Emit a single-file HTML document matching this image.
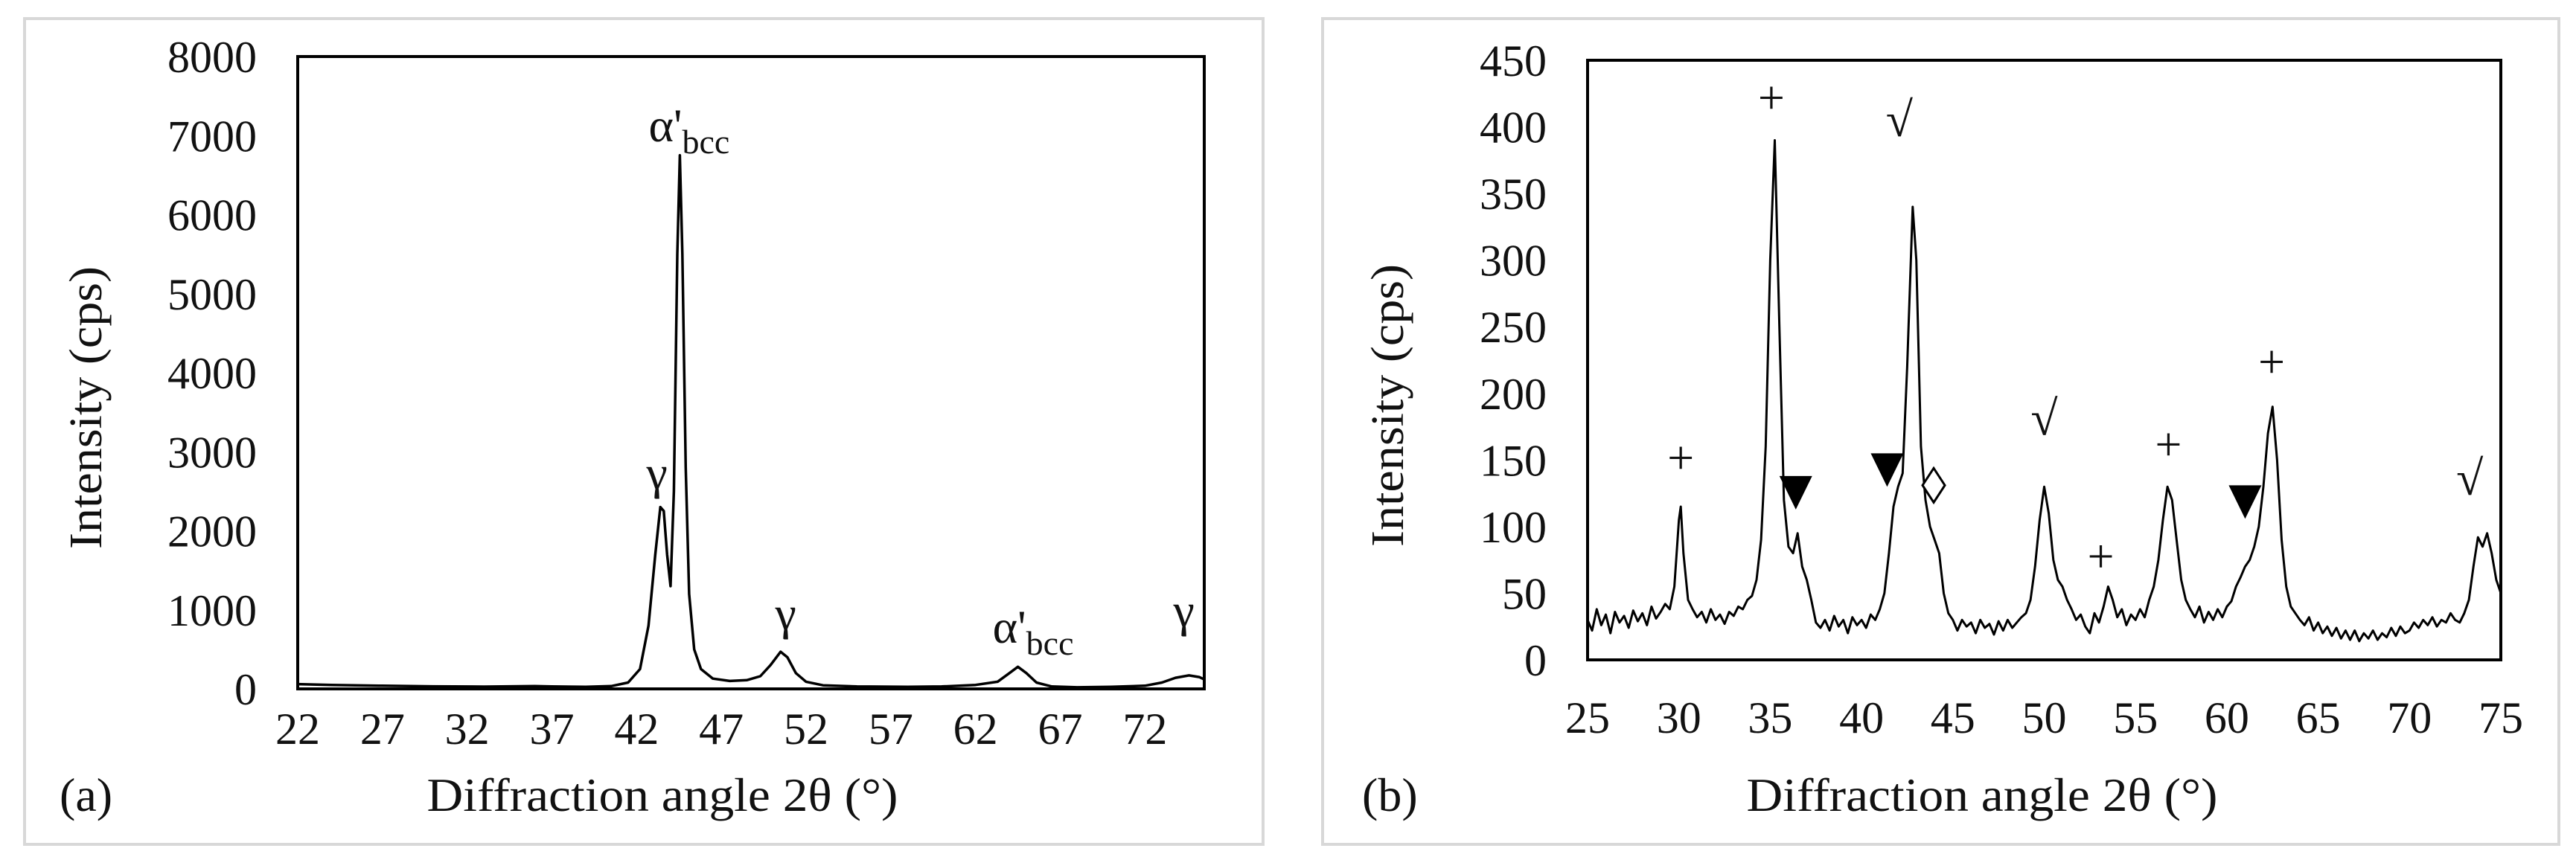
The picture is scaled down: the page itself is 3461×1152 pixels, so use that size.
<!DOCTYPE html>
<html><head><meta charset="utf-8"><style>
html,body{margin:0;padding:0;background:#fff;}
svg{display:block;}
text{font-family:"Liberation Serif",serif;fill:#111;}
</style></head><body>
<svg id="chart" width="3461" height="1152" viewBox="0 0 3461 1152" xmlns="http://www.w3.org/2000/svg">
<rect x="33" y="25" width="1664" height="1110" fill="none" stroke="#d8d8d8" stroke-width="4"/>
<rect x="1777" y="25" width="1661" height="1110" fill="none" stroke="#d8d8d8" stroke-width="4"/>
<g id="pa"></g>
<g id="pb"></g>
</svg>
<script>
// Panel (a) data
const aTicksX = [22,27,32,37,42,47,52,57,62,67,72];
const aTicksY = [0,1000,2000,3000,4000,5000,6000,7000,8000];
const aAngles = [22,24,27,30,33,36,37,39,40.5,41.5,42.2,42.7,43.1,43.4,43.6,43.8,44.0,44.2,44.4,44.55,44.7,44.9,45.1,45.4,45.8,46.5,47.5,48.5,49.3,49.9,50.5,50.9,51.4,52,53,55,58,60,62,63.3,64,64.5,65,65.6,66.5,68,70,72,73,73.8,74.6,75.2,75.5];
const aIntensity = [60,50,40,32,28,35,30,25,35,80,250,800,1700,2300,2250,1700,1300,2500,5500,6750,5500,2800,1200,500,250,130,100,110,160,300,470,400,200,90,45,30,25,30,50,90,200,280,200,80,30,20,25,40,80,140,170,150,120];
const aLabels = [["α'","bcc",45.1,7115],["γ","",43.2,2720],["γ","",50.8,941],["α'","bcc",65.4,772],["γ","",74.3,979]];

// Panel (b) data
const bTicksX = [25,30,35,40,45,50,55,60,65,70,75];
const bTicksY = [0,50,100,150,200,250,300,350,400,450];
const bPairs = [[25,30],[25.25,22],[25.5,38],[25.75,26],[26,34],[26.25,20],[26.5,36],[26.75,28],[27,33],[27.25,24],[27.5,37],[27.75,29],[28,35],[28.25,26],[28.5,40],[28.75,31],[29,36],[29.25,42],[29.5,38],[29.75,55],[30,105],[30.1,115],[30.25,80],[30.5,45],[30.75,38],[31,32],[31.25,36],[31.5,28],[31.75,38],[32,30],[32.25,34],[32.5,27],[32.75,36],[33,33],[33.25,40],[33.5,38],[33.75,45],[34,48],[34.25,60],[34.5,90],[34.75,160],[35,300],[35.25,390],[35.5,250],[35.75,120],[36,85],[36.25,80],[36.5,95],[36.75,70],[37,60],[37.25,45],[37.5,28],[37.75,24],[38,30],[38.25,22],[38.5,33],[38.75,25],[39,30],[39.25,20],[39.5,32],[39.75,26],[40,30],[40.25,24],[40.5,34],[40.75,30],[41,38],[41.25,50],[41.5,80],[41.75,115],[42,130],[42.25,140],[42.5,220],[42.8,340],[43,300],[43.25,160],[43.5,120],[43.75,100],[44,90],[44.25,80],[44.5,50],[44.75,35],[45,30],[45.25,22],[45.5,30],[45.75,25],[46,28],[46.25,20],[46.5,30],[46.75,24],[47,27],[47.25,19],[47.5,29],[47.75,22],[48,30],[48.25,24],[48.5,28],[48.75,32],[49,35],[49.25,45],[49.5,70],[49.75,105],[50,130],[50.25,110],[50.5,75],[50.75,60],[51,55],[51.25,45],[51.5,38],[51.75,30],[52,34],[52.25,25],[52.5,20],[52.75,35],[53,28],[53.25,40],[53.5,55],[53.75,45],[54,32],[54.25,38],[54.5,26],[54.75,34],[55,30],[55.25,38],[55.5,32],[55.75,45],[56,55],[56.25,75],[56.5,105],[56.75,130],[57,120],[57.25,90],[57.5,60],[57.75,45],[58,38],[58.25,32],[58.5,40],[58.75,28],[59,36],[59.25,30],[59.5,38],[59.75,32],[60,40],[60.25,44],[60.5,55],[60.75,62],[61,70],[61.25,75],[61.5,85],[61.75,100],[62,130],[62.25,170],[62.5,190],[62.75,150],[63,90],[63.25,55],[63.5,40],[63.75,35],[64,30],[64.25,26],[64.5,32],[64.75,22],[65,28],[65.25,20],[65.5,25],[65.75,18],[66,24],[66.25,16],[66.5,22],[66.75,15],[67,22],[67.25,14],[67.5,20],[67.75,16],[68,22],[68.25,15],[68.5,20],[68.75,17],[69,24],[69.25,18],[69.5,25],[69.75,20],[70,22],[70.25,28],[70.5,24],[70.75,30],[71,26],[71.25,32],[71.5,25],[71.75,30],[72,28],[72.25,35],[72.5,30],[72.75,28],[73,35],[73.25,45],[73.5,70],[73.75,92],[74,85],[74.25,95],[74.5,80],[74.75,60],[75,50]];
const bTextMarks = [["+",30.1,152],["+",35.06,422],["√",42.07,405],["√",50.0,181],["+",53.1,78],["+",56.8,162],["+",62.45,224],["√",73.3,136]];
const bTriangles = [[36.4,138],[41.4,155],[61.0,131]];
const bDiamonds = [[43.95,131]];

const NS="http://www.w3.org/2000/svg";
function mk(parent,tag,attrs){const e=document.createElementNS(NS,tag);for(const k in attrs)e.setAttribute(k,attrs[k]);parent.appendChild(e);return e;}

function panel(g,cfg){
  const sx=v=>cfg.L+(v-cfg.x0)/(cfg.x1-cfg.x0)*(cfg.R-cfg.L);
  const sy=v=>cfg.B-(v-cfg.y0)/(cfg.y1-cfg.y0)*(cfg.B-cfg.T);
  const pts=cfg.xs.map((x,i)=>sx(x).toFixed(1)+','+sy(cfg.ys[i]).toFixed(1)).join(' ');
  const pl=mk(g,'polyline',{points:pts,fill:'none',stroke:'#000','stroke-width':cfg.lw,'stroke-linejoin':'round'});
  
  
  const fr=mk(g,'rect',{x:cfg.L,y:cfg.T,width:cfg.R-cfg.L,height:cfg.B-cfg.T,fill:'none',stroke:'#000','stroke-width':4});
  
  
  cfg.ty.forEach(v=>{const t=mk(g,'text',{x:cfg.L-55,y:sy(v)+21,'font-size':60,'text-anchor':'end'});t.textContent=v;
    
    });
  cfg.tx.forEach(v=>{const t=mk(g,'text',{x:sx(v),y:cfg.xly,'font-size':60,'text-anchor':'middle'});t.textContent=v;
    
    });
  const xt=mk(g,'text',{x:cfg.xtx,y:1090,'font-size':64,'text-anchor':'middle',textLength:633,lengthAdjust:'spacingAndGlyphs'});xt.textContent='Diffraction angle 2θ (°)';
  
  
  const yt=mk(g,'text',{x:0,y:0,'font-size':62,'text-anchor':'middle',textLength:380,lengthAdjust:'spacingAndGlyphs',transform:`translate(${cfg.ytx},${cfg.yty}) rotate(-90)`});yt.textContent='Intensity (cps)';
  
  
  const pt=mk(g,'text',{x:cfg.plx,y:1090,'font-size':64});pt.textContent=cfg.pl;
  
  
  return {sx,sy};
}

const ga=document.getElementById('pa');
const A=panel(ga,{L:400,R:1618,T:76,B:926,x0:22,x1:75.5,y0:0,y1:8000,tx:aTicksX,ty:aTicksY,xs:aAngles,ys:aIntensity,lw:3.5,xly:1000,xtx:890,ytx:136,yty:548,plx:80,pl:'(a)'});
aLabels.forEach(l=>{
  const t=mk(ga,'text',{x:A.sx(l[2]),y:A.sy(l[3])+20,'font-size':64,'text-anchor':'middle'});
  t.textContent=l[0];
  if(l[1]){const s=mk(t,'tspan',{'font-size':46,dy:16});s.textContent=l[1];}
  
  
});

const gb=document.getElementById('pb');
const B=panel(gb,{L:2133,R:3360,T:81,B:887,x0:25,x1:75,y0:0,y1:450,tx:bTicksX,ty:bTicksY,xs:bPairs.map(p=>p[0]),ys:bPairs.map(p=>p[1]),lw:3,xly:985,xtx:2663,ytx:1885,yty:545,plx:1830,pl:'(b)'});
bTextMarks.forEach(m=>{
  const t=mk(gb,'text',{x:B.sx(m[1]),y:B.sy(m[2]),'font-size':m[0]==='√'?66:64,'text-anchor':'middle','dominant-baseline':'central'});
  t.textContent=m[0];
  
  
});
bTriangles.forEach(m=>{
  const cx=B.sx(m[0]),ty=B.sy(m[1]);
  const p=mk(gb,'polygon',{points:`${cx-22},${ty} ${cx+22},${ty} ${cx},${ty+45}`,fill:'#000'});
  
  
});
bDiamonds.forEach(m=>{
  const cx=B.sx(m[0]),cy=B.sy(m[1]);
  const p=mk(gb,'polygon',{points:`${cx},${cy-23} ${cx+15},${cy} ${cx},${cy+23} ${cx-15},${cy}`,fill:'#fff',stroke:'#000','stroke-width':3});
  
  
});
</script>
</body></html>
